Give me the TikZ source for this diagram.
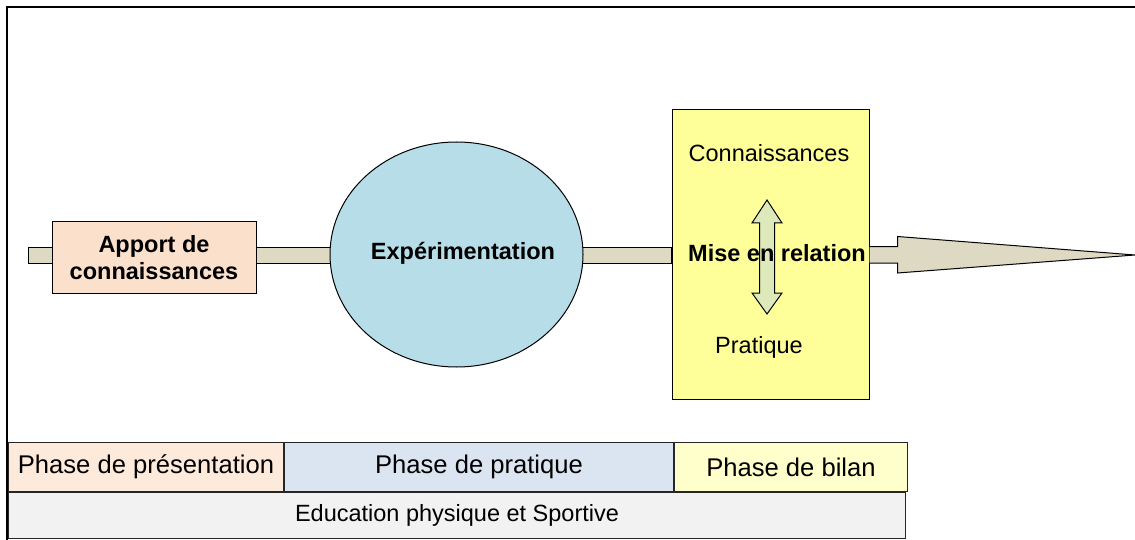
\documentclass[tikz,border=0pt]{standalone}
\usepackage{fontspec}
\setmainfont{Liberation Sans}
\usetikzlibrary{shapes.geometric,backgrounds,calc}
\definecolor{barfill}{HTML}{DDD9C3}
\definecolor{peach}{HTML}{FBE0CC}
\definecolor{skyblue}{HTML}{B7DDE8}
\definecolor{yel}{HTML}{FFFF99}
\definecolor{arrowgreen}{HTML}{DDE8BB}
\definecolor{cellpeach}{HTML}{FDEADA}
\definecolor{cellblue}{HTML}{DBE5F1}
\definecolor{cellyellow}{HTML}{FFFFCC}
\definecolor{cellgrey}{HTML}{F2F2F2}
\tikzset{
  outl/.style={draw=black, line width=1},
  txt/.style={font=\fontsize{23.5}{27}\selectfont, inner sep=0, align=center},
  btxt/.style={font=\fontsize{23.5}{27}\selectfont\bfseries, inner sep=0, align=center},
  cell/.style={draw=black!85, line width=1, inner sep=0, anchor=north west, font=\fontsize{25.6}{28}\selectfont},
}
\begin{document}
\begin{tikzpicture}[x=1pt,y=-1pt]
\useasboundingbox (0,0) rectangle (1135,540);
% frame
\draw[line width=2] (7,540) -- (7,7) -- (1135,7);
% main nodes
\node[outl, fill=peach, rectangle, minimum width=204, minimum height=71, inner sep=0, btxt] (apport) at (154,257.5) {Apport de\\connaissances};
\node[outl, fill=skyblue, ellipse, minimum width=253, minimum height=225, inner sep=0] (exp) at (456.5,254.5) {};
\node[btxt] (exptxt) at ($(exp.center)+(6.5,-1)$) {Expérimentation};
\node[outl, fill=yel, rectangle, minimum width=197, minimum height=289, inner sep=0] (mise) at (770.5,254.5) {};
\coordinate (start) at (28,256);
\coordinate (tip) at (1135,255);
% bars behind
\begin{scope}[on background layer]
  \draw[outl, fill=barfill] ($(start)+(0,-8.5)$) rectangle ($(mise.west)+(0,9)$);
\end{scope}
% right arrow
\draw[outl, fill=barfill, line join=miter]
  ($(mise.east)+(0,-8)$) -- ++(28,0) -- ++(0,-10) -- (tip) -- ($(mise.east)+(28,18.5)$) -- ++(0,-10) -- ($(mise.east)+(0,8.5)$);
% double arrow
\coordinate (da) at (767,257);
\draw[outl, fill=arrowgreen, line join=miter]
  ($(da)+(0,-57)$) -- ($(da)+(15,-34)$) -- ($(da)+(7.5,-34)$) -- ($(da)+(7.5,36)$) -- ($(da)+(15,36)$) -- ($(da)+(0,57)$)
  -- ($(da)+(-15,36)$) -- ($(da)+(-7.5,36)$) -- ($(da)+(-7.5,-34)$) -- ($(da)+(-15,-34)$) -- cycle;
% texts in yellow box
\node[txt] (conn) at (769,153) {Connaissances};
\node[btxt] (rel) at (777,253) {Mise en relation};
\node[txt] (prat) at (759,347) {Pratique};
% table
\node[cell, fill=cellpeach, minimum width=275, minimum height=49] (p1) at (8,442) {Phase de présentation};
\node[cell, fill=cellblue, minimum width=389, minimum height=49] (p2) at (p1.north east) {Phase de pratique};
\node[cell, fill=cellyellow, minimum width=233, minimum height=49] (p3) at (p2.north east) {Phase de bilan};
\node[cell, fill=cellgrey, minimum width=897, minimum height=46, font=\fontsize{23.5}{27}\selectfont] (eps) at (p1.south west) {Education physique et Sportive};
\end{tikzpicture}
\end{document}
